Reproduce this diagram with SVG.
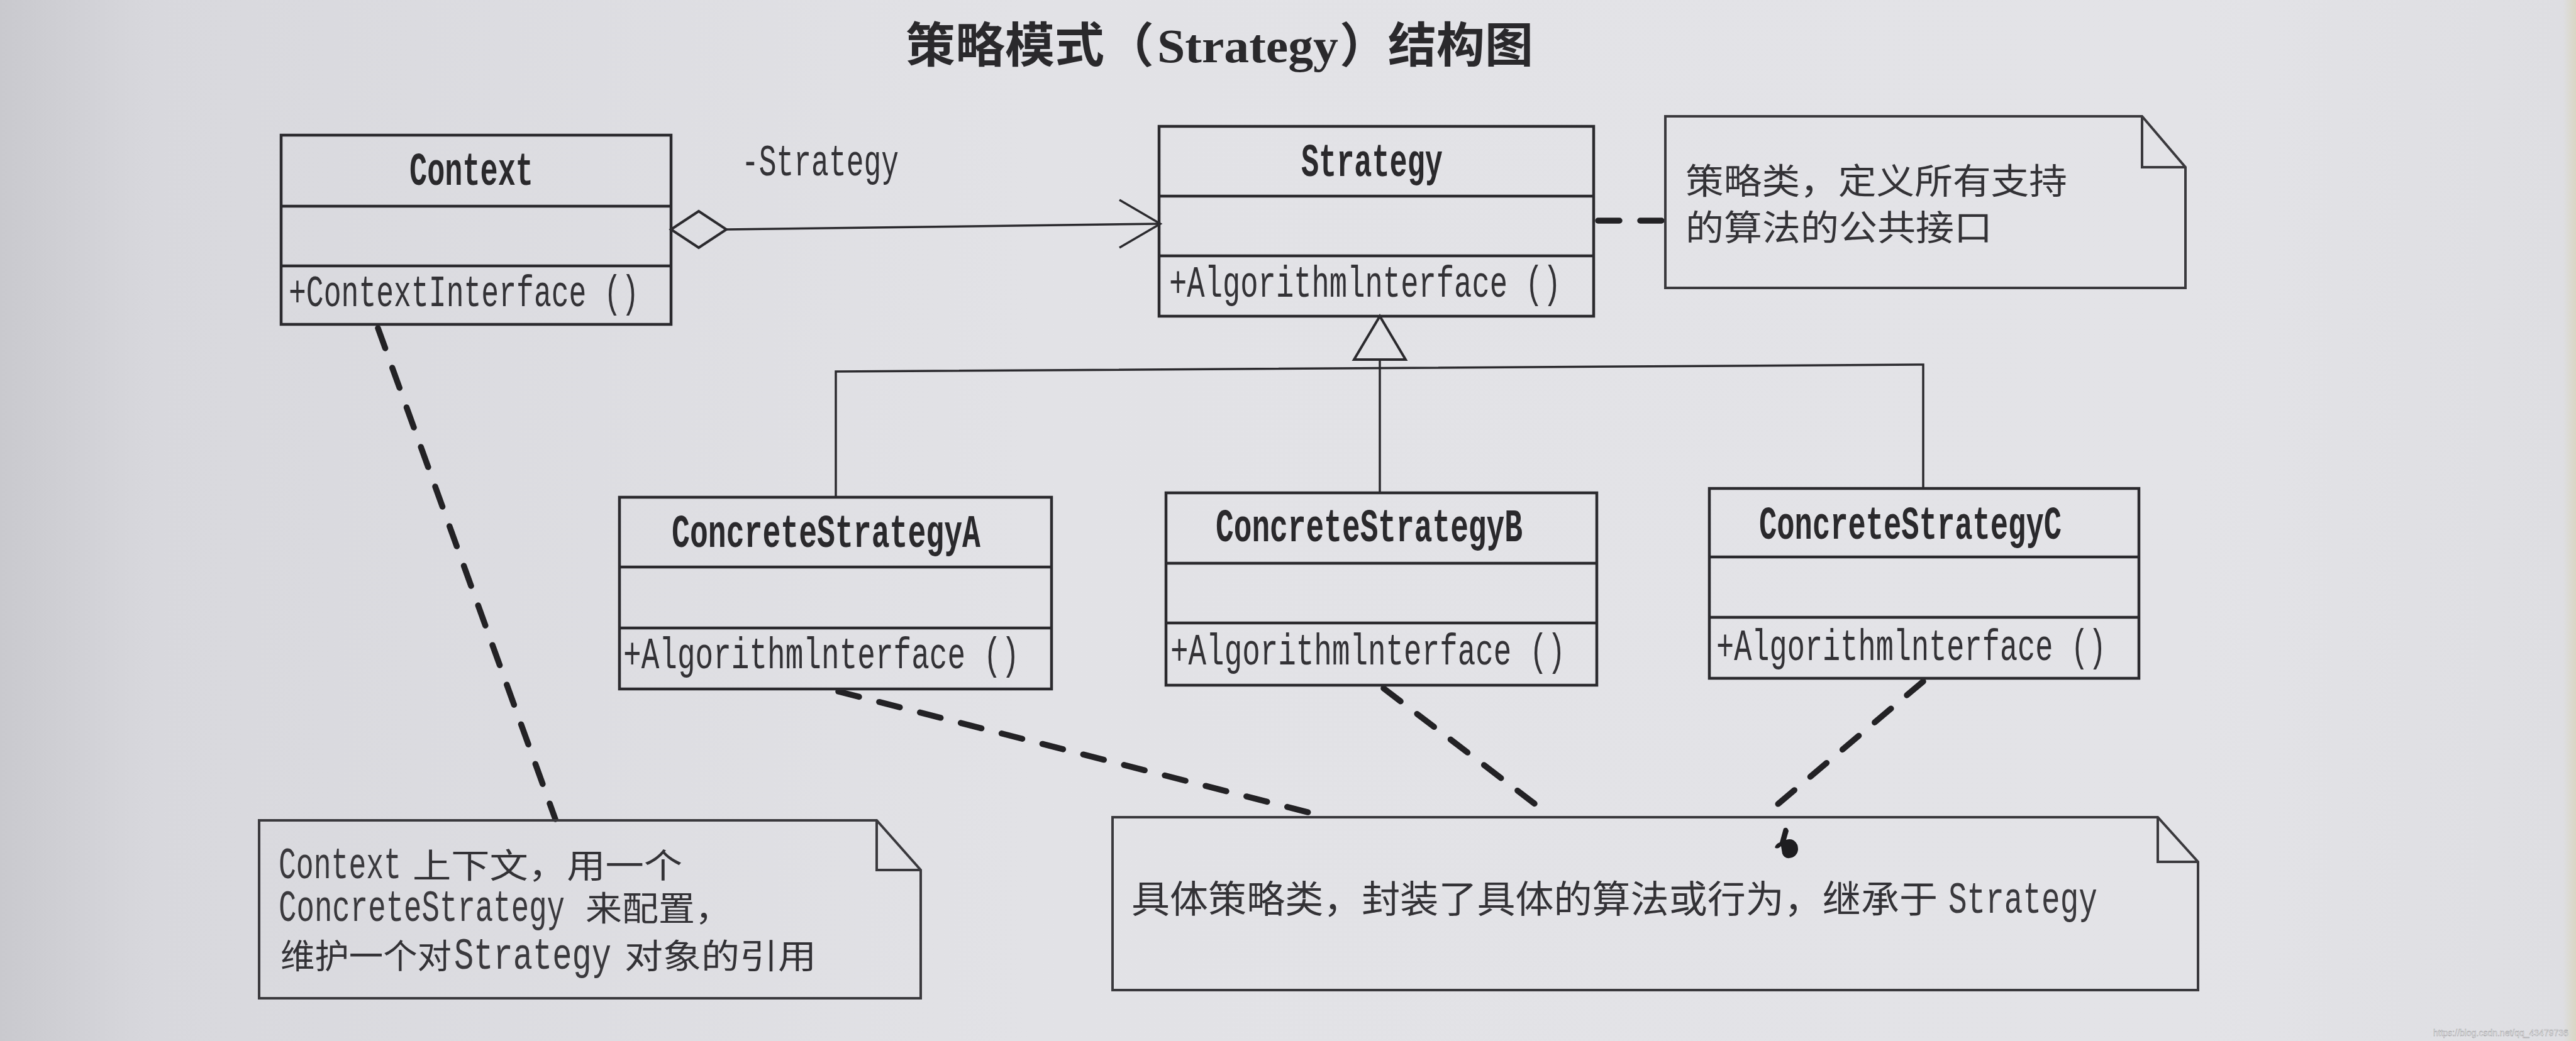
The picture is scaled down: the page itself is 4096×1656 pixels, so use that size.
<svg xmlns="http://www.w3.org/2000/svg" width="4096" height="1656" viewBox="0 0 4096 1656">
<defs>
<linearGradient id="paper" x1="0" y1="0" x2="1" y2="0">
<stop offset="0" stop-color="#c9c9ce"/>
<stop offset="0.06" stop-color="#d8d8dd"/>
<stop offset="0.4" stop-color="#e2e2e6"/>
<stop offset="0.85" stop-color="#e3e3e7"/>
<stop offset="0.995" stop-color="#dedee2"/>
<stop offset="1" stop-color="#d9d6c4"/>
</linearGradient>
<style>
.box{fill:none;stroke:#2b2a2e;stroke-width:4.5}
.ln{fill:none;stroke:#2b2a2e;stroke-width:3.5}
.dash{fill:none;stroke:#232225;stroke-width:9.5;stroke-dasharray:34 33;stroke-linecap:round}
.note{fill:none;stroke:#3a393d;stroke-width:4}
.cn{font-family:"Liberation Mono","DejaVu Sans Mono",monospace;font-weight:bold;font-size:74px;fill:#2a292c}
.mt{font-family:"Liberation Mono","DejaVu Sans Mono",monospace;font-size:70px;fill:#333236}
.lat{font-family:"Liberation Mono","DejaVu Sans Mono",monospace;font-size:70px;fill:#3a393d}
.cjk{font-family:"Noto Sans CJK SC","Noto Sans CJK JP",sans-serif;fill:#333236}
.title{font-family:"Noto Sans CJK SC","Noto Sans CJK JP",sans-serif;font-weight:bold;font-size:76px;fill:#2a292c}
</style>
</defs>
<rect x="0" y="0" width="4096" height="1656" fill="url(#paper)"/>

<text class="title" y="99"><tspan x="1440" textLength="395" lengthAdjust="spacingAndGlyphs">策略模式（</tspan><tspan x="1840" font-family="Liberation Serif, serif" textLength="288" lengthAdjust="spacingAndGlyphs">Strategy</tspan><tspan x="2130" textLength="308" lengthAdjust="spacingAndGlyphs">）结构图</tspan></text>

<g id="connectors">
<polygon points="1067,365 1111,336 1155,365 1111,394" fill="none" stroke="#2b2a2e" stroke-width="4"/>
<line class="ln" x1="1155" y1="365" x2="1843" y2="356"/>
<polyline class="ln" points="1780,318 1845,356 1780,394" stroke-width="4"/>
<text class="mt" x="1179" y="279" textLength="250" lengthAdjust="spacingAndGlyphs">-Strategy</text>
<line class="dash" x1="2541" y1="351" x2="2644" y2="351" stroke-width="10" stroke-dasharray="45 30"/>
<polygon points="2194,503 2153,572 2235,572" fill="none" stroke="#2b2a2e" stroke-width="4"/>
<line class="ln" x1="2194" y1="572" x2="2194" y2="784"/>
<polyline class="ln" points="1329,791 1329,591 3058,580 3058,777"/>
<line class="dash" x1="601" y1="522" x2="883" y2="1303"/>
<line class="dash" x1="1333" y1="1100" x2="2095" y2="1296"/>
<line class="dash" x1="2200" y1="1095" x2="2463" y2="1296"/>
<line class="dash" x1="3058" y1="1084" x2="2807" y2="1296"/>
<path d="M2836,1318 q6,-4 8,4 l-4,14 q12,-4 18,8 q4,14 -8,20 q-12,4 -16,-6 l-2,-12 q-6,6 -10,2 q2,-6 8,-8 z" fill="#1e1d20"/>
</g>

<g id="context">
<rect class="box" x="447" y="215" width="620" height="301"/>
<line class="box" x1="447" y1="328" x2="1067" y2="328"/>
<line class="box" x1="447" y1="423" x2="1067" y2="423"/>
<text class="cn" x="651" y="294" textLength="197" lengthAdjust="spacingAndGlyphs">Context</text>
<text class="mt" x="459" y="487" textLength="557" lengthAdjust="spacingAndGlyphs">+ContextInterface ()</text>
</g>

<g id="strategy">
<rect class="box" x="1843" y="201" width="691" height="302"/>
<line class="box" x1="1843" y1="312" x2="2534" y2="312"/>
<line class="box" x1="1843" y1="407" x2="2534" y2="407"/>
<text class="cn" x="2069" y="280" textLength="225" lengthAdjust="spacingAndGlyphs">Strategy</text>
<text class="mt" x="1859" y="472" textLength="623" lengthAdjust="spacingAndGlyphs">+Algorithmlnterface ()</text>
</g>

<g id="note-strategy">
<path class="note" d="M2648,185 L3406,185 L3475,266 L3475,458 L2648,458 Z M3406,185 L3406,266 L3475,266"/>
<text class="cjk" x="2680" y="308" font-size="56" textLength="607" lengthAdjust="spacingAndGlyphs">策略类，定义所有支持</text>
<text class="cjk" x="2680" y="382" font-size="56" textLength="488" lengthAdjust="spacingAndGlyphs">的算法的公共接口</text>
</g>

<g id="concrete-a">
<rect class="box" x="985" y="791" width="687" height="305"/>
<line class="box" x1="985" y1="902" x2="1672" y2="902"/>
<line class="box" x1="985" y1="999" x2="1672" y2="999"/>
<text class="cn" x="1068" y="870" textLength="491" lengthAdjust="spacingAndGlyphs">ConcreteStrategyA</text>
<text class="mt" x="991" y="1063" textLength="630" lengthAdjust="spacingAndGlyphs">+Algorithmlnterface ()</text>
</g>

<g id="concrete-b">
<rect class="box" x="1854" y="784" width="685" height="306"/>
<line class="box" x1="1854" y1="896" x2="2539" y2="896"/>
<line class="box" x1="1854" y1="991" x2="2539" y2="991"/>
<text class="cn" x="1933" y="861" textLength="488" lengthAdjust="spacingAndGlyphs">ConcreteStrategyB</text>
<text class="mt" x="1861" y="1057" textLength="628" lengthAdjust="spacingAndGlyphs">+Algorithmlnterface ()</text>
</g>

<g id="concrete-c">
<rect class="box" x="2718" y="777" width="683" height="302"/>
<line class="box" x1="2718" y1="886" x2="3401" y2="886"/>
<line class="box" x1="2718" y1="982" x2="3401" y2="982"/>
<text class="cn" x="2797" y="857" textLength="481" lengthAdjust="spacingAndGlyphs">ConcreteStrategyC</text>
<text class="mt" x="2729" y="1050" textLength="620" lengthAdjust="spacingAndGlyphs">+Algorithmlnterface ()</text>
</g>

<g id="note-context">
<path class="note" d="M412,1305 L1394,1305 L1464,1384 L1464,1588 L412,1588 Z M1394,1305 L1394,1384 L1464,1384"/>
<text y="1397"><tspan class="lat" x="443" textLength="195" lengthAdjust="spacingAndGlyphs">Context</tspan><tspan class="cjk" x="656" font-size="54" textLength="429" lengthAdjust="spacingAndGlyphs">上下文，用一个</tspan></text>
<text y="1465"><tspan class="lat" x="443" textLength="455" lengthAdjust="spacingAndGlyphs">ConcreteStrategy</tspan><tspan class="cjk" x="931" font-size="54" textLength="232" lengthAdjust="spacingAndGlyphs">来配置，</tspan></text>
<text y="1541"><tspan class="cjk" x="446" font-size="54" textLength="272" lengthAdjust="spacingAndGlyphs">维护一个对</tspan><tspan class="lat" x="722" textLength="250" lengthAdjust="spacingAndGlyphs">Strategy</tspan><tspan class="cjk" x="993" font-size="54" textLength="305" lengthAdjust="spacingAndGlyphs">对象的引用</tspan></text>
</g>

<g id="note-concrete">
<path class="note" d="M1769,1300 L3431,1300 L3495,1371 L3495,1575 L1769,1575 Z M3431,1300 L3431,1371 L3495,1371"/>
<text y="1452"><tspan class="cjk" x="1799" font-size="60" textLength="1282" lengthAdjust="spacingAndGlyphs">具体策略类，封装了具体的算法或行为，继承于</tspan><tspan class="lat" x="3098" textLength="237" lengthAdjust="spacingAndGlyphs">Strategy</tspan></text>
</g>

<text x="3869" y="1648" font-family="Liberation Sans, sans-serif" font-size="14" fill="#f4f4f4" stroke="#8a8a8e" stroke-width="0.4">https://blog.csdn.net/qq_43479736</text>
</svg>
